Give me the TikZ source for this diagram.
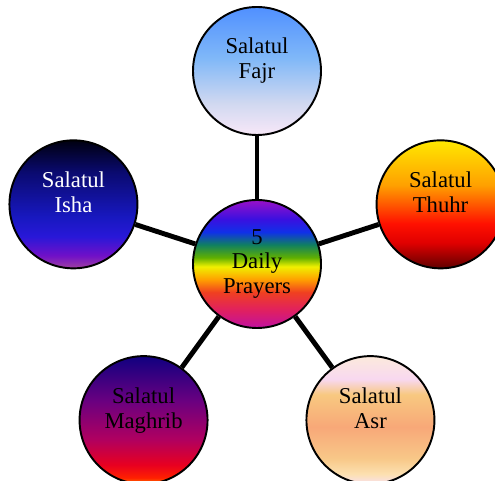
\documentclass[tikz,border=0pt]{standalone}
\usepackage{fontspec}
\setmainfont{Liberation Serif}
\usetikzlibrary{calc}

% Shadings (bottom = 25bp, top = 75bp)
\pgfdeclareverticalshading{rainbow}{100bp}{
    color(0bp)=(rgb,255:red,192;green,16;blue,160);
    color(25bp)=(rgb,255:red,192;green,16;blue,160);
    color(32bp)=(rgb,255:red,224;green,32;blue,96);
    color(39bp)=(rgb,255:red,240;green,64;blue,32);
    color(44bp)=(rgb,255:red,255;green,160;blue,0);
    color(49bp)=(rgb,255:red,240;green,240;blue,0);
    color(52.5bp)=(rgb,255:red,96;green,176;blue,0);
    color(57.5bp)=(rgb,255:red,16;green,128;blue,96);
    color(62.5bp)=(rgb,255:red,16;green,48;blue,232);
    color(67.5bp)=(rgb,255:red,58;green,16;blue,224);
    color(75bp)=(rgb,255:red,154;green,16;blue,200);
    color(100bp)=(rgb,255:red,154;green,16;blue,200)}
\pgfdeclareverticalshading{fajrsky}{100bp}{
    color(0bp)=(rgb,255:red,248;green,232;blue,248);
    color(25bp)=(rgb,255:red,248;green,232;blue,248);
    color(37.5bp)=(rgb,255:red,208;green,216;blue,240);
    color(55bp)=(rgb,255:red,128;green,184;blue,248);
    color(75bp)=(rgb,255:red,80;green,144;blue,255);
    color(100bp)=(rgb,255:red,80;green,144;blue,255)}
\pgfdeclareverticalshading{thuhrsky}{100bp}{
    color(0bp)=(rgb,255:red,96;green,0;blue,0);
    color(25bp)=(rgb,255:red,96;green,0;blue,0);
    color(35bp)=(rgb,255:red,224;green,0;blue,0);
    color(42.5bp)=(rgb,255:red,255;green,16;blue,0);
    color(57.5bp)=(rgb,255:red,255;green,160;blue,0);
    color(75bp)=(rgb,255:red,255;green,232;blue,0);
    color(100bp)=(rgb,255:red,255;green,232;blue,0)}
\pgfdeclareverticalshading{asrsky}{100bp}{
    color(0bp)=(rgb,255:red,248;green,224;blue,240);
    color(25bp)=(rgb,255:red,248;green,224;blue,240);
    color(29bp)=(rgb,255:red,252;green,224;blue,176);
    color(35bp)=(rgb,255:red,248;green,200;blue,136);
    color(47.5bp)=(rgb,255:red,248;green,168;blue,120);
    color(60bp)=(rgb,255:red,248;green,200;blue,128);
    color(66bp)=(rgb,255:red,248;green,216;blue,240);
    color(75bp)=(rgb,255:red,252;green,234;blue,220);
    color(100bp)=(rgb,255:red,252;green,234;blue,220)}
\pgfdeclareverticalshading{maghribsky}{100bp}{
    color(0bp)=(rgb,255:red,255;green,128;blue,0);
    color(25bp)=(rgb,255:red,255;green,128;blue,0);
    color(27.5bp)=(rgb,255:red,255;green,32;blue,0);
    color(32.5bp)=(rgb,255:red,232;green,0;blue,32);
    color(42.5bp)=(rgb,255:red,176;green,0;blue,96);
    color(57.5bp)=(rgb,255:red,106;green,0;blue,128);
    color(75bp)=(rgb,255:red,16;green,0;blue,128);
    color(100bp)=(rgb,255:red,16;green,0;blue,128)}
\pgfdeclareverticalshading{ishasky}{100bp}{
    color(0bp)=(rgb,255:red,160;green,64;blue,160);
    color(25bp)=(rgb,255:red,160;green,64;blue,160);
    color(30bp)=(rgb,255:red,112;green,16;blue,200);
    color(37.5bp)=(rgb,255:red,40;green,24;blue,216);
    color(45bp)=(rgb,255:red,24;green,24;blue,192);
    color(62.5bp)=(rgb,255:red,10;green,10;blue,112);
    color(75bp)=(rgb,255:red,0;green,0;blue,16);
    color(100bp)=(rgb,255:red,0;green,0;blue,16)}

\begin{document}
\begin{tikzpicture}[
    prayer/.style={circle, draw=black, line width=1.1pt, minimum size=2.56cm,
        inner sep=0pt, align=center, font=\fontsize{12.9pt}{14.2pt}\selectfont},
    spoke/.style={line width=2.8pt, black}]
    \useasboundingbox (0,0) rectangle (9.9,9.62);

    % Hub
    \node[prayer, shading=rainbow] (hub) at (5.14,4.34) {5\\Daily\\Prayers};

    % The five prayers
    \node[prayer, shading=fajrsky] (fajr) at ($(hub)+(90:3.86)$) {Salatul\\Fajr\\~};
    \node[prayer, shading=thuhrsky] (thuhr) at ($(hub)+(18:3.86)$) {Salatul\\Thuhr\\~};
    \node[prayer, shading=asrsky] (asr) at ($(hub)+(-54:3.86)$) {Salatul\\Asr\\~};
    \node[prayer, shading=maghribsky] (maghrib) at ($(hub)+(-126:3.86)$) {Salatul\\Maghrib\\~};
    \node[prayer, shading=ishasky, text=white] (isha) at ($(hub)+(162:3.86)$) {Salatul\\Isha\\~};

    % Spokes
    \foreach \p in {fajr, thuhr, asr, maghrib, isha} {
        \draw[spoke] (hub) -- (\p);
    }
\end{tikzpicture}
\end{document}
